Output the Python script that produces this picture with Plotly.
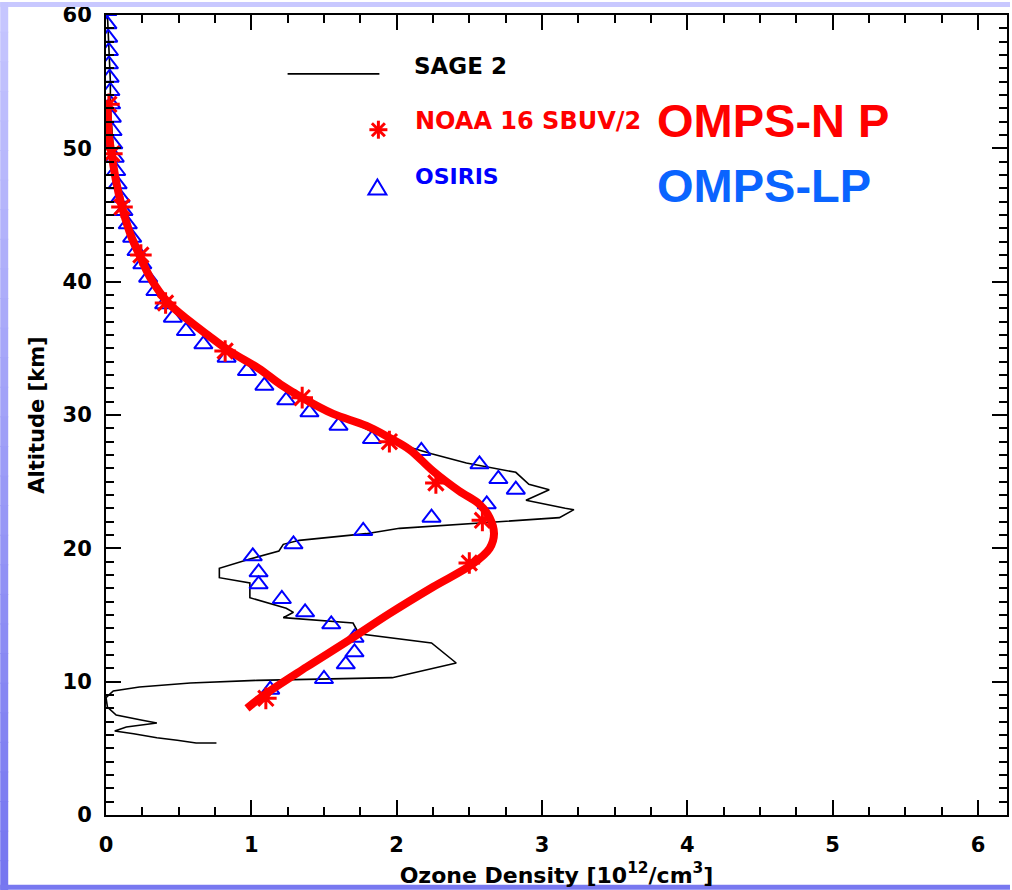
import plotly.graph_objects as go

# ---------------- data ----------------
# SAGE 2 profile (black line)
sage_alt = [60, 57, 55, 53, 51, 50, 48, 46, 44, 42, 40, 38.5, 37, 36, 35, 34, 33, 32, 31, 30,
            29, 28.3, 27.8, 27.1, 26.4, 25.7, 24.8, 24.4, 23.6, 23.0, 22.9, 22.3, 21.8, 21.5,
            21.1, 20.6, 20.3, 19.8, 19.2, 18.5, 17.8, 17.4, 16.3, 15.5, 15.2, 14.8, 14.4, 13.6,
            12.9, 11.4, 10.3, 10.1, 9.9, 9.6, 9.3, 8.8, 8.1, 7.5, 7.1, 6.9, 6.6, 6.3, 6.1, 5.8,
            5.6, 5.4, 5.4]
sage_o3 = [0.01, 0.02, 0.03, 0.03, 0.04, 0.05, 0.07, 0.10, 0.15, 0.22, 0.31, 0.42, 0.56, 0.68,
           0.82, 0.97, 1.12, 1.27, 1.42, 1.60, 1.78, 1.92, 2.02, 2.24, 2.48, 2.82, 2.91, 3.05,
           2.89, 3.16, 3.22, 3.12, 2.47, 2.02, 1.79, 1.33, 1.22, 1.19, 0.99, 0.78, 0.78, 0.99,
           0.99, 1.24, 1.29, 1.22, 1.70, 1.74, 2.24, 2.41, 1.97, 1.04, 0.58, 0.23, 0.05, 0.00,
           0.01, 0.07, 0.25, 0.35, 0.14, 0.06, 0.19, 0.35, 0.49, 0.62, 0.76]

# NOAA 16 SBUV/2 (red asterisks)
noaa_alt = [53.3, 49.6, 45.6, 42.0, 38.4, 34.8, 31.3, 28.0, 24.9, 22.1, 18.9, 8.75]
noaa_o3 = [0.02, 0.04, 0.11, 0.24, 0.41, 0.82, 1.35, 1.95, 2.27, 2.59, 2.50, 1.10]

# OSIRIS (blue triangles)
osiris_alt = [60.3, 59.3, 58.3, 57.3, 56.3, 55.3, 54.3, 53.3, 52.3, 51.3, 50.3, 49.3, 48.3,
              47.3, 46.3, 45.3, 44.3, 43.3, 42.3, 41.3, 40.3, 39.3, 38.3, 37.3, 36.3, 35.3,
              34.3, 33.3, 32.2, 31.1, 30.2, 29.2, 28.2, 27.3, 26.3, 25.2, 24.4, 23.3, 22.3,
              21.3, 20.3, 19.4, 18.2, 17.3, 16.2, 15.2, 14.3, 13.3, 12.2, 11.3, 10.2, 9.4]
osiris_o3 = [0.01, 0.01, 0.015, 0.02, 0.02, 0.025, 0.03, 0.035, 0.04, 0.045, 0.05, 0.06, 0.07,
             0.08, 0.10, 0.12, 0.15, 0.18, 0.21, 0.25, 0.29, 0.34, 0.40, 0.46, 0.55, 0.67,
             0.83, 0.97, 1.09, 1.24, 1.40, 1.60, 1.83, 2.17, 2.57, 2.70, 2.82, 2.62, 2.24,
             1.77, 1.29, 1.01, 1.05, 1.05, 1.21, 1.37, 1.55, 1.71, 1.71, 1.65, 1.50, 1.13]

# OMPS-N P (thick red curve)
omps_alt = [53.5, 51.0, 49.5, 47.5, 45.6, 43.5, 42.0, 40.2, 38.4, 37.0, 36.0, 34.8, 33.5, 32.3,
            31.3, 30.1, 29.2, 28.3, 27.4, 25.8, 24.3, 23.3, 22.3, 21.1, 20.0, 18.8, 17.1, 15.1,
            13.1, 11.1, 9.1, 8.0]
omps_o3 = [0.01, 0.02, 0.04, 0.07, 0.11, 0.17, 0.23, 0.31, 0.43, 0.58, 0.70, 0.85, 1.05, 1.20,
           1.35, 1.56, 1.79, 1.95, 2.09, 2.25, 2.43, 2.57, 2.64, 2.67, 2.64, 2.52, 2.25, 1.95,
           1.67, 1.38, 1.10, 0.97]

x_ticks = [0, 1, 2, 3, 4, 5, 6]
y_ticks = [0, 10, 20, 30, 40, 50, 60]

# ---------------- figure ----------------
W, H = 1012, 890
ML, MR, MT, MB = 106, 3, 13, 75
PW, PH = W - ML - MR, H - MT - MB


def px2paper(px, py):
    return (px - ML) / PW, (H - MB - py) / PH


fig = go.Figure()

fig.add_trace(go.Scatter(x=sage_o3, y=sage_alt, mode="lines",
                         line=dict(color="black", width=1.6), name="SAGE 2",
                         showlegend=False))
fig.add_trace(go.Scatter(x=osiris_o3, y=osiris_alt, mode="markers",
                         marker=dict(symbol="triangle-up-open", size=16, color="#0000ff",
                                     line=dict(width=2, color="#0000ff")),
                         name="OSIRIS", showlegend=False))
fig.add_trace(go.Scatter(x=noaa_o3, y=noaa_alt, mode="markers",
                         marker=dict(symbol="asterisk-open", size=18, color="#ff0000",
                                     line=dict(width=3, color="#ff0000")),
                         name="NOAA 16 SBUV/2", showlegend=False))
fig.add_trace(go.Scatter(x=omps_o3, y=omps_alt, mode="lines",
                         line=dict(color="#ff0000", width=8, shape="spline", smoothing=1.0),
                         name="OMPS-N P", showlegend=False))

tickfont = dict(family="DejaVu Sans", size=21, color="black", weight="bold")

fig.update_xaxes(range=[0, 6.2], tickvals=x_ticks, ticktext=[str(v) for v in x_ticks],
                 showgrid=False, zeroline=False, showline=True, linecolor="black", linewidth=2,
                 mirror="ticks", ticks="inside", ticklen=15, tickwidth=2, tickcolor="black",
                 minor=dict(dtick=0.25, ticks="inside", ticklen=8, tickwidth=2,
                            tickcolor="black", showgrid=False),
                 tickfont=tickfont, ticklabelstandoff=10,
                 title=dict(text="Ozone Density [10<sup>12</sup>/cm<sup>3</sup>]",
                            font=dict(family="DejaVu Sans", size=22, color="black",
                                      weight="bold"),
                            standoff=11))
fig.update_yaxes(range=[0, 60], tickvals=y_ticks, ticktext=[str(v) for v in y_ticks],
                 showgrid=False, zeroline=False, showline=True, linecolor="black", linewidth=2,
                 mirror="ticks", ticks="inside", ticklen=15, tickwidth=2, tickcolor="black",
                 minor=dict(dtick=1, ticks="inside", ticklen=8, tickwidth=2,
                            tickcolor="black", showgrid=False),
                 tickfont=tickfont, ticklabelstandoff=8,
                 title=dict(text="Altitude [km]",
                            font=dict(family="DejaVu Sans", size=21, color="black",
                                      weight="bold"),
                            standoff=12))

shapes = []


def band(px0, py0, px1, py1, color):
    x0, y0 = px2paper(px0, py0)
    x1, y1 = px2paper(px1, py1)
    return dict(type="rect", xref="paper", yref="paper", x0=x0, y0=y0, x1=x1, y1=y1,
                fillcolor=color, line=dict(width=0), layer="above")


# slide frame bands
shapes.append(band(0, 0, W, 5, "rgb(200,200,255)"))
n = 30
for i in range(n):
    t = i / (n - 1)
    r = int(198 - t * (198 - 118))
    b = int(255 - t * (255 - 240))
    shapes.append(band(0, i * H / n, 8, (i + 1) * H / n + 1, f"rgb({r},{r},{b})"))
shapes.append(band(0, 885, W, H, "rgb(120,120,240)"))

# legend: line sample for SAGE 2
lx0, ly = px2paper(288, 72)
lx1, _ = px2paper(380, 72)
shapes.append(dict(type="line", xref="paper", yref="paper", x0=lx0, x1=lx1, y0=ly, y1=ly,
                   line=dict(color="black", width=1.6)))
# legend: asterisk symbol
ax, ay = px2paper(379, 128)
for (dx, dy) in [(0, 9), (9, 0), (6.5, 6.5), (6.5, -6.5)]:
    shapes.append(dict(type="line", xref="paper", yref="paper", xsizemode="pixel",
                       ysizemode="pixel", xanchor=ax, yanchor=ay, x0=-dx, x1=dx, y0=-dy, y1=dy,
                       line=dict(color="#ff0000", width=3)))
# legend: triangle symbol
tx, ty = px2paper(378, 186)
shapes.append(dict(type="path", xref="paper", yref="paper", xsizemode="pixel",
                   ysizemode="pixel", xanchor=tx, yanchor=ty,
                   path="M -9 -7 L 9 -7 L 0 8 Z",
                   line=dict(color="#0000ff", width=2), fillcolor="rgba(0,0,0,0)"))

annotations = []


def label(text, px, py, color, size, family="DejaVu Sans", bold=False):
    x, y = px2paper(px, py)
    annotations.append(dict(text=text, x=x, y=y,
                            xref="paper", yref="paper", xanchor="left", yanchor="middle",
                            showarrow=False,
                            font=dict(family=family, size=size, color=color,
                                      weight="bold" if bold else "normal")))


label("SAGE 2", 413, 64, "black", 23, bold=True)
label("NOAA 16 SBUV/2", 414, 119, "#ff0000", 24, bold=True)
label("OSIRIS", 414, 175, "#0000ff", 22, bold=True)
label("OMPS-N P", 656, 119, "#ff0000", 47, family="Liberation Sans", bold=True)
label("OMPS-LP", 656, 184, "#0a64ff", 47, family="Liberation Sans", bold=True)

fig.update_layout(width=W, height=H, autosize=False,
                  margin=dict(l=ML, r=MR, t=MT, b=MB, pad=0),
                  paper_bgcolor="white", plot_bgcolor="white",
                  shapes=shapes, annotations=annotations, showlegend=False)

fig.write_html("out.html", config={"displayModeBar": False},
               post_script="document.body.style.margin='0px';"
                           "document.body.style.overflow='hidden';")
